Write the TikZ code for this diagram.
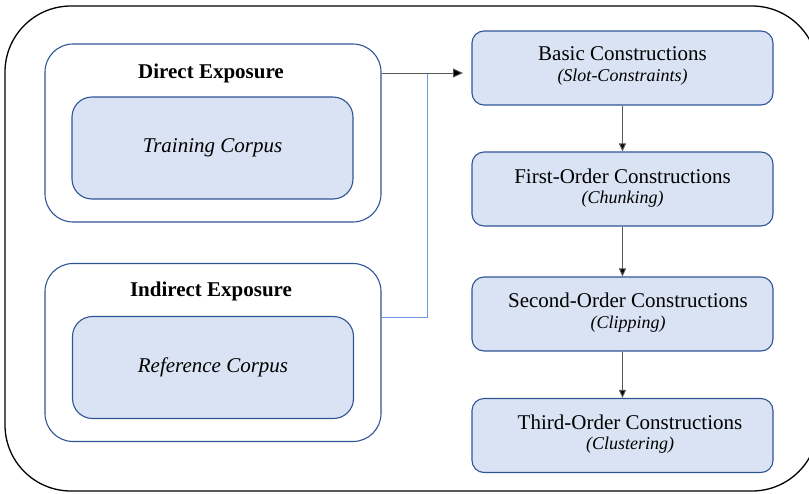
\documentclass[tikz,border=0pt]{standalone}
\usepackage{fontspec}
\setmainfont{Liberation Serif}
\usetikzlibrary{arrows.meta}
\definecolor{boxfill}{HTML}{DAE3F3}
\definecolor{boxline}{HTML}{2F5597}
\definecolor{linkblue}{HTML}{6F96E6}
\definecolor{arrowgray}{HTML}{595959}
\tikzset{
  stagebox/.style={draw=boxline, line width=1.1pt, fill=boxfill, rounded corners=12pt,
    minimum width=301pt, minimum height=74pt, inner sep=0pt},
  stagetitle/.style={font=\fontsize{21}{24}\selectfont, inner sep=0pt},
  stagesub/.style={font=\fontsize{18}{20}\selectfont\itshape, inner sep=0pt},
  groupbox/.style={draw=boxline, line width=1.1pt, fill=white, rounded corners=28pt,
    minimum width=336pt, minimum height=178pt, inner sep=0pt},
  corpusbox/.style={draw=boxline, line width=1.1pt, fill=boxfill, rounded corners=20pt,
    minimum width=281pt, minimum height=102pt, inner sep=0pt,
    font=\fontsize{21}{24}\selectfont\itshape},
  grouptitle/.style={font=\fontsize{21}{24}\selectfont\bfseries, inner sep=0pt},
  flow/.style={draw=arrowgray, line width=0.9pt, -{Triangle[length=8pt,width=7pt,fill=black]}},
}
\begin{document}
\begin{tikzpicture}[x=1pt,y=-1pt]
\useasboundingbox (0,0) rectangle (809,493);
% outer frame
\draw[line width=1.3pt, rounded corners=66pt] (5,6) rectangle (818,491);
% group boxes
\node[groupbox] (direct) at (213,133) {};
\node[grouptitle] (directtitle) at (211,73) {Direct Exposure};
\node[corpusbox] (training) at (212.5,148) {Training Corpus};
\node[groupbox] (indirect) at (213,352.5) {};
\node[grouptitle] (indirecttitle) at (211,291) {Indirect Exposure};
\node[corpusbox] (reference) at (213,367.5) {Reference Corpus};
% stage boxes
\node[stagebox] (basic) at (622.5,68) {};
\node[stagetitle] (basict) at (622.5,54) {Basic Constructions};
\node[stagesub] (basics) at (622.5,77) {(Slot-Constraints)};
\node[stagebox] (first) at (622.5,189) {};
\node[stagetitle] (firstt) at (622.5,176) {First-Order Constructions};
\node[stagesub] (firsts) at (622.5,199) {(Chunking)};
\node[stagebox] (second) at (622.5,314) {};
\node[stagetitle] (secondt) at (628,300) {Second-Order Constructions};
\node[stagesub] (seconds) at (628,324) {(Clipping)};
\node[stagebox] (third) at (622.5,435.5) {};
\node[stagetitle] (thirdt) at (630,422) {Third-Order Constructions};
\node[stagesub] (thirds) at (630,445) {(Clustering)};
% connectors
\coordinate (joinbottom) at (427,317);
\coordinate (jointop) at (427,73);
\coordinate (basicin) at (463,73);
\draw[draw=linkblue, line width=1pt] (indirect.east |- joinbottom) -- (joinbottom) -- (jointop);
\draw[draw=arrowgray, line width=0.9pt, -{Triangle[length=10pt,width=9pt,fill=black]}] (direct.east |- jointop) -- (basicin);
\draw[flow] (basic.south) -- (first.north);
\draw[flow] (first.south) -- (second.north);
\draw[flow] (second.south) -- (third.north);
\end{tikzpicture}
\end{document}
